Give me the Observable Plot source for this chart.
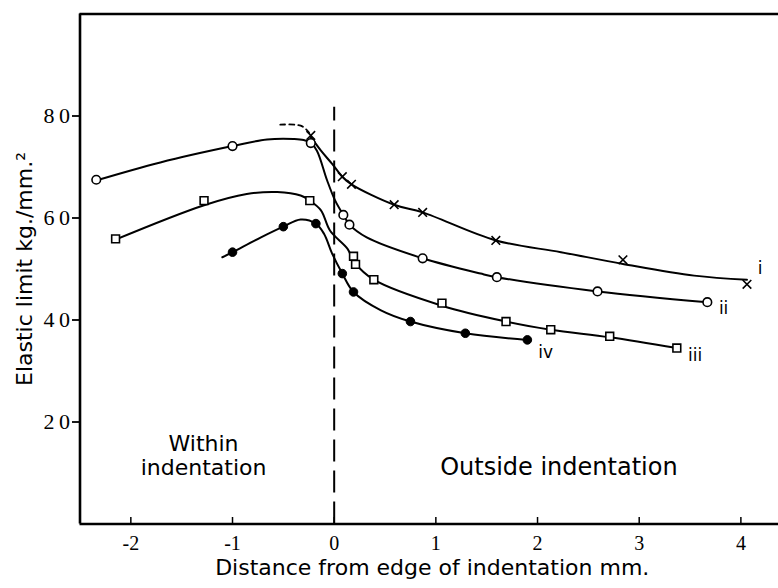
<!DOCTYPE html>
<html><head><meta charset="utf-8">
<script src="https://cdn.jsdelivr.net/npm/d3@7"></script>
<script src="https://cdn.jsdelivr.net/npm/@observablehq/plot@0.6"></script>
<style>html,body{margin:0;background:#fff;overflow:hidden} #chart svg{display:block}</style>
</head><body><div id="chart"></div>
<script>
// Axis domains and ticks
const xDomain = [-2.5, 4.37];
const yDomain = [0, 100];
const xTicks = [-2, -1, 0, 1, 2, 3, 4];
const yTicks = [20, 40, 60, 80];

// Series i (crosses)
const iMarkX = [-0.23, 0.08, 0.17, 0.59, 0.87, 1.59, 2.84, 4.06];
const iMarkY = [76.2, 68.1, 66.6, 62.6, 61.1, 55.6, 51.8, 47.0];
const iLineX = [-0.23, -0.13, -0.02, 0.08, 0.17, 0.59, 0.87, 1.59, 2.23, 2.84, 3.54, 4.06];
const iLineY = [75.9, 73.2, 70.6, 68.1, 66.6, 62.6, 61.1, 55.6, 53.3, 51.0, 48.7, 47.9];
const iDashX = [-0.53, -0.33, -0.25, -0.23];
const iDashY = [78.3, 78.1, 76.8, 75.9];

// Series ii (open circles)
const iiMarkX = [-2.34, -1.0, -0.23, 0.09, 0.15, 0.87, 1.6, 2.59, 3.67];
const iiMarkY = [67.5, 74.1, 74.7, 60.6, 58.7, 52.1, 48.4, 45.6, 43.5];
const iiLineX = [-2.37, -1.71, -1.0, -0.66, -0.4, -0.3, -0.23, -0.17, -0.07, 0.01, 0.09, 0.15, 0.32, 0.87, 1.44, 1.6, 2.59, 3.67];
const iiLineY = [67.2, 70.9, 74.1, 75.4, 75.5, 75.3, 74.7, 73.2, 67.4, 63.4, 60.6, 58.7, 56.2, 52.1, 49.1, 48.4, 45.6, 43.5];

// Series iii (open squares)
const iiiMarkX = [-2.15, -1.28, -0.24, 0.19, 0.21, 0.39, 1.06, 1.69, 2.13, 2.71, 3.37];
const iiiMarkY = [55.9, 63.4, 63.4, 52.5, 50.9, 47.9, 43.3, 39.7, 38.1, 36.8, 34.5];
const iiiLineX = [-2.17, -1.28, -0.86, -0.56, -0.33, -0.24, -0.13, -0.04, 0.13, 0.2, 0.39, 1.06, 1.69, 2.13, 2.71, 3.37];
const iiiLineY = [55.6, 62.5, 64.7, 65.1, 64.4, 63.4, 61.5, 57.5, 54.0, 51.3, 47.9, 42.8, 39.7, 38.1, 36.6, 34.5];

// Series iv (filled circles)
const ivMarkX = [-1.0, -0.5, -0.18, 0.08, 0.19, 0.75, 1.29, 1.9];
const ivMarkY = [53.3, 58.3, 58.9, 49.1, 45.5, 39.7, 37.4, 36.1];
const ivLineX = [-1.1, -1.0, -0.72, -0.5, -0.33, -0.18, -0.1, -0.02, 0.08, 0.19, 0.46, 0.75, 1.29, 1.9];
const ivLineY = [52.3, 53.3, 56.2, 58.3, 59.7, 58.9, 56.9, 53.0, 49.1, 45.5, 41.9, 39.7, 37.4, 36.1];

// Curve labels
const curveNames = ["i", "ii", "iii", "iv"];
const curveLabelX = [4.19, 3.83, 3.55, 2.08];
const curveLabelY = [50.1, 42.3, 33.0, 33.6];

// Region annotations
const withinText = ["Within", "indentation"];
const withinX = [-1.285, -1.285];
const withinY = [15.7, 10.9];
const outsideText = ["Outside indentation"];
const outsideX = [2.21];
const outsideY = [11.1];

// Edge line
const edgeX = [0];
const edgeTop = 81.7;

const pts = (xs, ys) => xs.map((x, k) => ({x, y: ys[k]}));
const txt = (xs, ys, ts) => xs.map((x, k) => ({x, y: ys[k], t: ts[k]}));

// tick-mark glyphs (inward on x, outward on y)
const tickUp = {draw(ctx) { ctx.moveTo(0, 0); ctx.lineTo(0, -7); }};
const tickLeft = {draw(ctx) { ctx.moveTo(0, 0); ctx.lineTo(-8, 0); }};

const chart = Plot.plot({
  width: 778, height: 588,
  marginLeft: 79.5, marginRight: 0, marginTop: 13.5, marginBottom: 64.5,
  x: {domain: xDomain, axis: null},
  y: {domain: yDomain, axis: null},
  style: {fontFamily: "DejaVu Sans", background: "white", color: "black", overflow: "visible"},
  marks: [
    Plot.ruleX([xDomain[0]], {stroke: "black", strokeWidth: 2.6}),
    Plot.ruleY([yDomain[0]], {stroke: "black", strokeWidth: 2.6}),
    Plot.ruleY([yDomain[1]], {stroke: "black", strokeWidth: 2.6}),
    Plot.dot(xTicks, {x: d => d, y: yDomain[0], symbol: tickUp, stroke: "black", fill: "none", strokeWidth: 1.5}),
    Plot.dot(yTicks, {x: xDomain[0], y: d => d, symbol: tickLeft, stroke: "black", fill: "none", strokeWidth: 1.8}),
    Plot.text(xTicks, {x: d => d, y: yDomain[0], dy: 20, text: d => d < 0 ? "-" + Math.abs(d) : String(d),
      fontFamily: "Liberation Serif", fontSize: 20, fill: "black"}),
    Plot.text(yTicks, {x: xDomain[0], y: d => d, dx: -10, textAnchor: "end", text: d => String(d).split("").join("\u2009"),
      fontFamily: "Liberation Serif", fontSize: 22, fill: "black"}),
    Plot.text(["Distance from edge of indentation mm."], {frameAnchor: "bottom", dy: 51, dx: 3, fontSize: 22, fill: "black"}),
    Plot.text(["Elastic limit kg./mm.\u00b2"], {frameAnchor: "left", textAnchor: "middle", rotate: -90, dx: -55, fontSize: 22, fill: "black"}),
    Plot.ruleX(edgeX, {y1: yDomain[0], y2: edgeTop, stroke: "black", strokeWidth: 2, strokeDasharray: "22,9"}),
    Plot.line(pts(iDashX, iDashY), {x: "x", y: "y", curve: "catmull-rom", stroke: "black", strokeWidth: 1.8, strokeDasharray: "5,4"}),
    Plot.line(pts(iLineX, iLineY), {x: "x", y: "y", curve: "catmull-rom", stroke: "black", strokeWidth: 2}),
    Plot.line(pts(iiLineX, iiLineY), {x: "x", y: "y", curve: "catmull-rom", stroke: "black", strokeWidth: 2}),
    Plot.line(pts(iiiLineX, iiiLineY), {x: "x", y: "y", curve: "catmull-rom", stroke: "black", strokeWidth: 2}),
    Plot.line(pts(ivLineX, ivLineY), {x: "x", y: "y", curve: "catmull-rom", stroke: "black", strokeWidth: 2}),
    Plot.dot(pts(iMarkX, iMarkY), {x: "x", y: "y", symbol: "times", r: 4, stroke: "black", strokeWidth: 1.6}),
    Plot.dot(pts(iiMarkX, iiMarkY), {x: "x", y: "y", r: 4.3, fill: "white", stroke: "black", strokeWidth: 1.6}),
    Plot.dot(pts(iiiMarkX, iiiMarkY), {x: "x", y: "y", symbol: "square", r: 4.4, fill: "white", stroke: "black", strokeWidth: 1.6}),
    Plot.dot(pts(ivMarkX, ivMarkY), {x: "x", y: "y", r: 4.3, fill: "black", stroke: "black", strokeWidth: 1}),
    Plot.text(txt(curveLabelX, curveLabelY, curveNames), {x: "x", y: "y", text: "t", fontSize: 17, fill: "black"}),
    Plot.text(txt(withinX, withinY, withinText), {x: "x", y: "y", text: "t", fontSize: 22, fill: "black"}),
    Plot.text(txt(outsideX, outsideY, outsideText), {x: "x", y: "y", text: "t", fontSize: 24, fill: "black"})
  ]
});
document.getElementById("chart").appendChild(chart);
</script>
</body></html>
